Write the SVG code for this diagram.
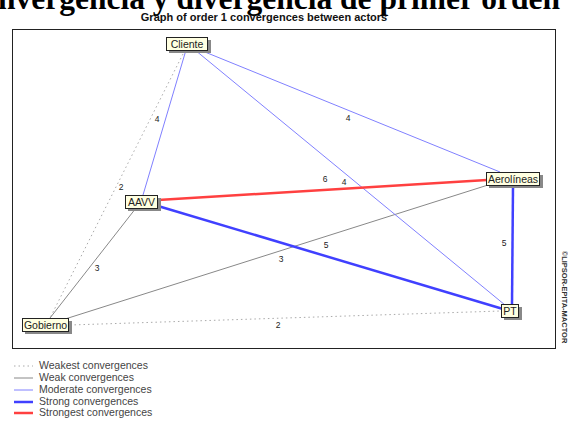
<svg xmlns="http://www.w3.org/2000/svg" width="568" height="421" viewBox="0 0 568 421">
<style>
.title{font-family:"Liberation Serif",serif;font-weight:bold;font-size:31.5px;fill:#000}
.sub{font-family:"Liberation Sans",Arial,sans-serif;font-weight:bold;font-size:11px;fill:#111}
.nl{font-family:"Liberation Sans",Arial,sans-serif;font-size:10.5px;fill:#222}
.box{fill:#ffffe1;stroke:#222;stroke-width:1}
.sh{fill:#888}
.num{font-family:"Liberation Sans",Arial,sans-serif;font-size:8.5px;fill:#222;text-anchor:middle}
.leg{font-family:"Liberation Sans",Arial,sans-serif;font-size:10.5px;fill:#444}
.weakest{stroke:#aaa;stroke-width:1;stroke-dasharray:1.5 3;fill:none}
.weak{stroke:#888;stroke-width:1;fill:none}
.moderate{stroke:#8080ff;stroke-width:1;fill:none}
.strong{stroke:#4040ff;stroke-width:2.5;fill:none}
.strongest{stroke:#ff4040;stroke-width:2.5;fill:none}
</style>
<rect width="568" height="421" fill="#fff"/>
<text class="title" x="-2" y="9">nvergencia y divergencia de primer orden</text>
<text class="sub" x="264" y="21" text-anchor="middle">Graph of order 1 convergences between actors</text>
<rect x="12.5" y="29.5" width="543" height="319" fill="#fff" stroke="#222" stroke-width="1"/>
<text x="562" y="297" transform="rotate(90 562 297)" text-anchor="middle" style="font-family:'Liberation Sans',Arial,sans-serif;font-size:7.5px;font-weight:bold;fill:#333">©LIPSOR-EPITA-MACTOR</text>
<g id="connectors">
<line class="weakest" x1="185" y1="50" x2="50" y2="318"/>
<line class="weakest" x1="70" y1="325" x2="501" y2="311"/>
<line class="weak" x1="136" y1="208" x2="50" y2="318"/>
<line class="weak" x1="488" y1="185" x2="62" y2="320"/>
<line class="moderate" x1="186" y1="50" x2="143" y2="195"/>
<line class="moderate" x1="200" y1="50" x2="500" y2="172"/>
<line class="moderate" x1="195" y1="50" x2="505" y2="305"/>
<line class="strong" x1="158" y1="206" x2="503" y2="309"/>
<line class="strong" x1="513" y1="186" x2="512" y2="305"/>
<line class="strongest" x1="158" y1="200" x2="487" y2="180"/>
<text class="num" x="157" y="122">4</text>
<text class="num" x="121" y="190">2</text>
<text class="num" x="348" y="121">4</text>
<text class="num" x="325" y="182">6</text>
<text class="num" x="344" y="185">4</text>
<text class="num" x="326" y="248">5</text>
<text class="num" x="97" y="271">3</text>
<text class="num" x="281" y="262">3</text>
<text class="num" x="504" y="246">5</text>
<text class="num" x="278" y="328">2</text>
</g>
<g id="Cliente"><rect class="sh" x="169" y="40" width="42" height="13"/><rect class="box" x="166.5" y="37.5" width="41" height="13"/><text class="nl" x="187" y="48" text-anchor="middle">Cliente</text></g>
<g id="AAVV"><rect class="sh" x="128" y="198" width="33" height="13"/><rect class="box" x="125.5" y="195.5" width="32" height="13"/><text class="nl" x="141.5" y="206" text-anchor="middle">AAVV</text></g>
<g id="Aerolineas"><rect class="sh" x="489" y="175" width="54" height="13"/><rect class="box" x="486.5" y="172.5" width="53" height="13"/><text class="nl" x="513" y="183" text-anchor="middle">Aerolíneas</text></g>
<g id="Gobierno"><rect class="sh" x="25" y="321" width="47" height="13"/><rect class="box" x="22.5" y="318.5" width="46" height="13"/><text class="nl" x="45.5" y="329" text-anchor="middle">Gobierno</text></g>
<g id="PT"><rect class="sh" x="504" y="307" width="18" height="13"/><rect class="box" x="501.5" y="304.5" width="17" height="13"/><text class="nl" x="510" y="315" text-anchor="middle">PT</text></g>
<g id="legend">
<line class="weakest" x1="14" y1="366" x2="33" y2="366"/>
<line class="weak" x1="14" y1="378" x2="33" y2="378"/>
<line class="moderate" x1="14" y1="390" x2="33" y2="390"/>
<line class="strong" x1="14" y1="402" x2="33" y2="402"/>
<line class="strongest" x1="14" y1="413" x2="33" y2="413"/>
<text class="leg" x="39" y="369">Weakest convergences</text>
<text class="leg" x="39" y="381">Weak convergences</text>
<text class="leg" x="39" y="393">Moderate convergences</text>
<text class="leg" x="39" y="405">Strong convergences</text>
<text class="leg" x="39" y="416">Strongest convergences</text>
</g>
</svg>
